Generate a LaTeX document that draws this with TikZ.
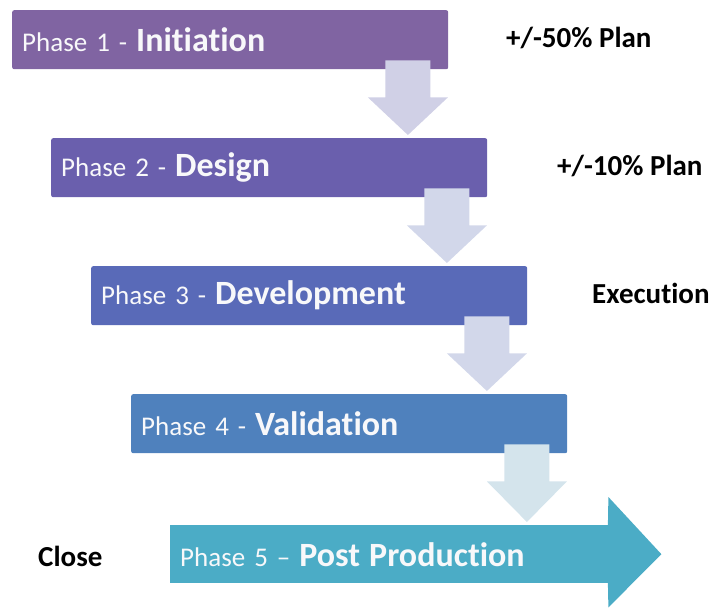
\documentclass[tikz,border=0pt]{standalone}
\usepackage{fontspec}
\setmainfont{Carlito}[Ligatures=NoCommon]
\usetikzlibrary{calc}
\definecolor{cA}{RGB}{128,100,162}
\definecolor{cB}{RGB}{106,95,173}
\definecolor{cC}{RGB}{89,106,184}
\definecolor{cD}{RGB}{79,129,189}
\definecolor{cE}{RGB}{75,172,198}
\definecolor{arrL}{RGB}{208,208,230}
\definecolor{arrM}{RGB}{210,215,234}
\definecolor{arrN}{RGB}{212,228,236}
\definecolor{txtW}{RGB}{248,248,250}
\tikzset{
  phasebox/.style={fill=#1, rounded corners=2pt, anchor=north west, text width=416pt,
    inner xsep=10pt, inner ysep=0pt, minimum height=59pt, align=left, text=txtW,
    font=\fontsize{27}{30}\selectfont},
  sidelabel/.style={anchor=west, inner sep=0pt, font=\fontsize{29}{32}\selectfont\bfseries},
}
\newcommand{\bigpart}[1]{{\fontsize{34}{36}\selectfont\bfseries #1}}
\newcommand{\downarr}[3]{%
  \fill[#3] let \p1=($(#1.south east)+(-40.5,0)$), \p2=(#2.north) in
    (\x1-22.5pt,\y1+9pt) -- (\x1+22.5pt,\y1+9pt) -- (\x1+22.5pt,\y1-28pt) --
    (\x1+40pt,\y1-28pt) -- (\x1,\y2+3pt) -- (\x1-40pt,\y1-28pt) --
    (\x1-22.5pt,\y1-28pt) -- cycle;}
\begin{document}
\begin{tikzpicture}[x=1pt,y=-1pt]
\useasboundingbox (0,0) rectangle (711,607);
\node[phasebox=cA] (b1) at (12,10) {Phase 1 - \bigpart{Initiation}};
\node[phasebox=cB] (b2) at (51,138) {Phase 2 - \bigpart{Design}};
\node[phasebox=cC] (b3) at (91,266) {Phase 3 - \bigpart{Development}};
\node[phasebox=cD] (b4) at (131,394) {Phase 4 - \bigpart{Validation}};
\node[fill=cE, anchor=north west, text width=418pt, inner xsep=10pt, inner ysep=0pt,
  minimum height=58pt, align=left, text=txtW, font=\fontsize{27}{30}\selectfont]
  (b5) at (170,525) {Phase 5 -- \bigpart{Post Production}};
\fill[cE] ($(b5.north east)+(-0.5,0)$) -- ($(b5.north east)+(0,-28)$) --
  ($(b5.east)+(53,0)$) -- ($(b5.south east)+(0,24)$) -- ($(b5.south east)+(-0.5,0)$) -- cycle;
\downarr{b1}{b2}{arrL}
\downarr{b2}{b3}{arrM}
\downarr{b3}{b4}{arrM}
\downarr{b4}{b5}{arrN}
\node[sidelabel] (l1) at (506,38) {+/-50\% Plan};
\node[sidelabel] (l2) at (557,166) {+/-10\% Plan};
\node[sidelabel] (l3) at (592,293) {Execution};
\node[sidelabel] (l4) at (38,556) {Close};
\end{tikzpicture}
\end{document}
